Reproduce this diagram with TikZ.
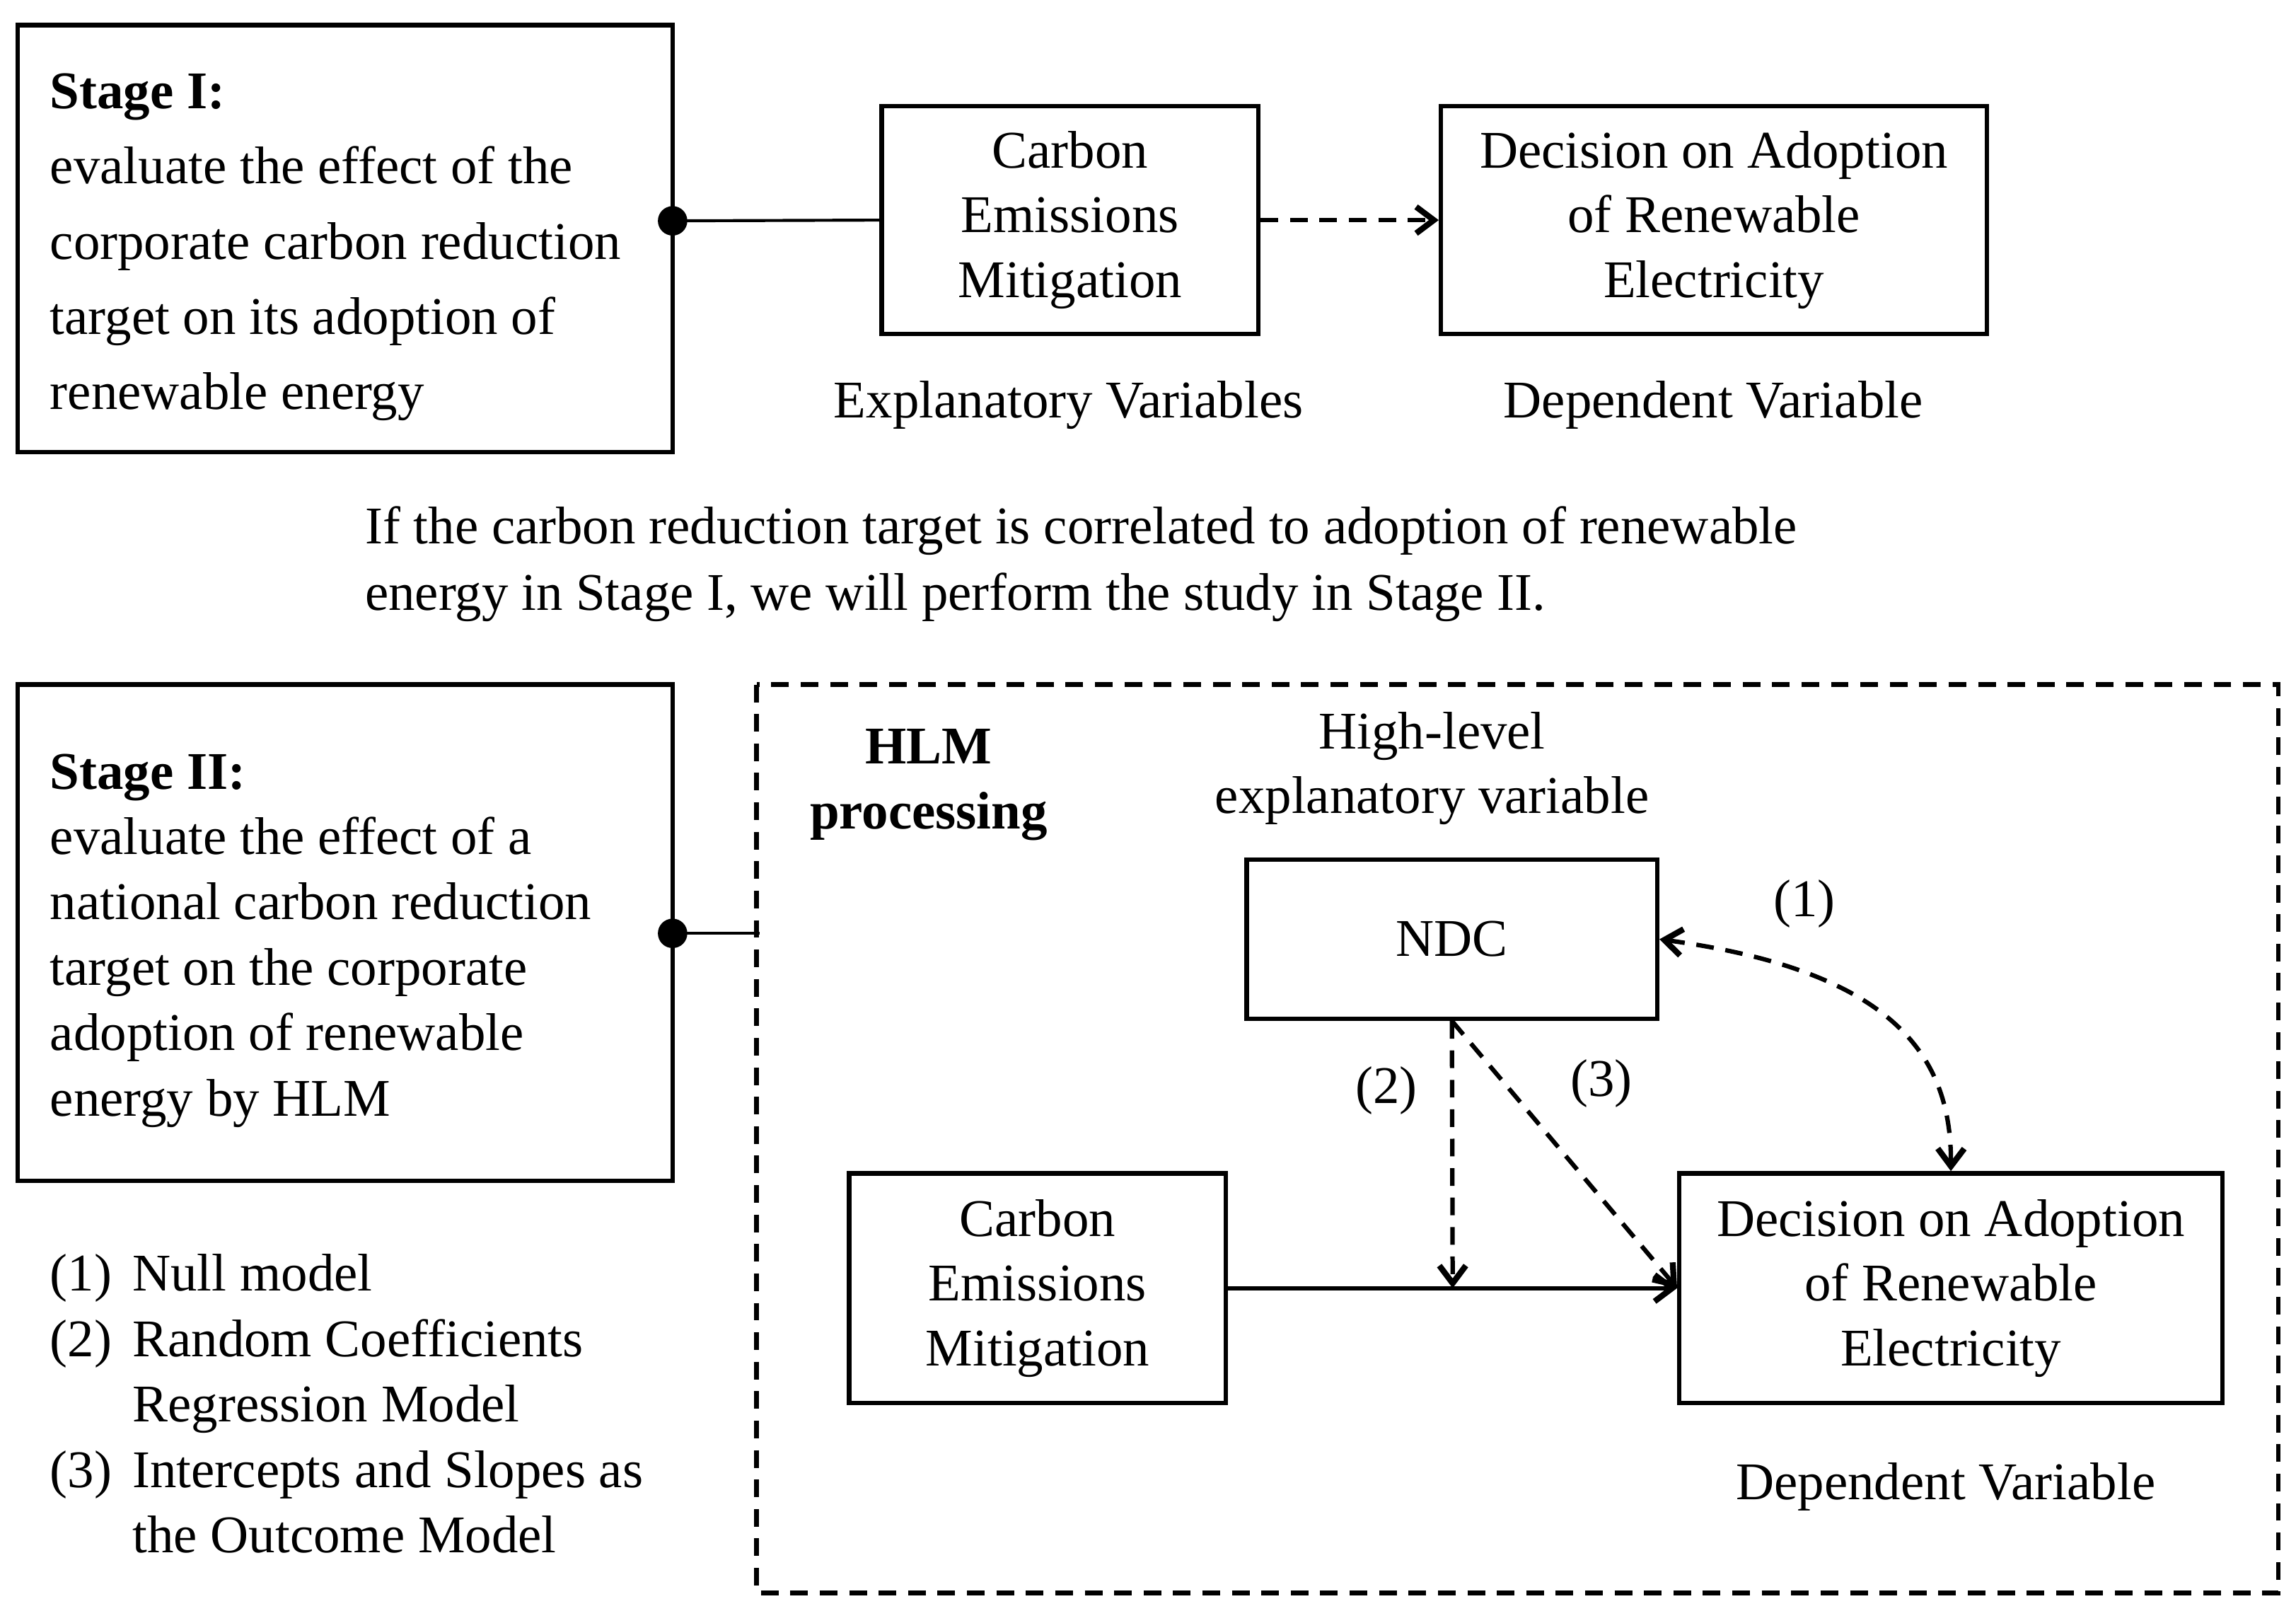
\documentclass[tikz,border=0pt]{standalone}
\usepackage{fontspec}
\setmainfont{Liberation Serif}
\usetikzlibrary{arrows.meta}
\begin{document}
\begin{tikzpicture}[x=0.5pt,y=-0.5pt,
  box/.style={draw,line width=1.5pt,inner sep=0pt},
  txt/.style={font=\fontsize{18}{22}\selectfont,align=center},
  ltxt/.style={font=\fontsize{18}{25.5}\selectfont,align=left,anchor=north west},
  arr/.style={line width=1.5pt,-{Straight Barb[length=6pt,width=9pt,line width=2pt]}},
  dsh/.style={dash pattern=on 6pt off 4pt}]
\useasboundingbox (0,0) rectangle (1560,1094);
% Stage I
\draw[box] (12,17) rectangle (457,307);
\node[ltxt] (s1) at (27,43) {\textbf{Stage I:}\\evaluate the effect of the\\corporate carbon reduction\\target on its adoption of\\renewable energy};
\node[box,minimum width=128pt,minimum height=77.5pt,txt] (c1) at (727,149.5) {Carbon\\Emissions\\Mitigation};
\node[box,minimum width=185.5pt,minimum height=77.5pt,txt] (d1) at (1164.5,149.5) {Decision on Adoption\\of Renewable\\Electricity};
\coordinate (p1) at (457,150);
\fill (p1) circle (5pt);
\draw[line width=1pt] (p1) -- (c1.west);
\draw[arr,dsh] (c1.east) -- (d1.west);
\node[txt] (e1) at (726,275) {Explanatory Variables};
\node[txt] (dv1) at (1164,275) {Dependent Variable};
\node[ltxt,font=\fontsize{18}{22.5}\selectfont] (par) at (241,337) {If the carbon reduction target is correlated to adoption of renewable\\energy in Stage I, we will perform the study in Stage II.};
% Stage II
\draw[box] (12,465) rectangle (457,802);
\node[ltxt,font=\fontsize{18}{22.2}\selectfont] (s2) at (27,505) {\textbf{Stage II:}\\evaluate the effect of a\\national carbon reduction\\target on the corporate\\adoption of renewable\\energy by HLM};
\draw[line width=1.5pt,dsh] (514,465) rectangle (1548,1082);
\coordinate (p2) at (457,634);
\coordinate (q2) at (516,634);
\fill (p2) circle (5pt);
\draw[line width=1pt] (p2) -- (q2);
\node[txt,font=\bfseries\fontsize{18}{22}\selectfont] (hlm) at (631,533) {HLM\\processing};
\node[txt] (hl) at (973,522) {High-level\\explanatory variable};
\node[box,minimum width=139.5pt,minimum height=54pt,txt] (ndc) at (986.5,638) {NDC};
\node[box,minimum width=128pt,minimum height=78pt,txt] (c2) at (705,875) {Carbon\\Emissions\\Mitigation};
\node[box,minimum width=184.5pt,minimum height=78pt,txt] (d2) at (1325.5,875) {Decision on Adoption\\of Renewable\\Electricity};
\node[txt] (dv2) at (1322,1010) {Dependent Variable};
\coordinate (m) at (987,875);
\draw[arr] (c2.east) -- (d2.west);
\draw[arr,dsh] (ndc.south) -- (m);
\draw[arr,dsh] (ndc.south) -- (d2.west);
\draw[line width=1.5pt,dsh,{Straight Barb[length=6pt,width=9pt,line width=2pt]}-{Straight Barb[length=6pt,width=9pt,line width=2pt]}] (ndc.east) .. controls (1290,660) and (1326,720) .. (d2.north);
\node[txt] (l1) at (1226,614) {(1)};
\node[txt] (l2) at (942,741) {(2)};
\node[txt] (l3) at (1088,736) {(3)};
% list
\node[ltxt,font=\fontsize{18}{22.2}\selectfont] (ln) at (27,845) {(1)\\(2)\\\\(3)};
\node[ltxt,font=\fontsize{18}{22.2}\selectfont] (lt) at (83,845) {Null model\\Random Coefficients\\Regression Model\\Intercepts and Slopes as\\the Outcome Model};
\end{tikzpicture}
\end{document}
